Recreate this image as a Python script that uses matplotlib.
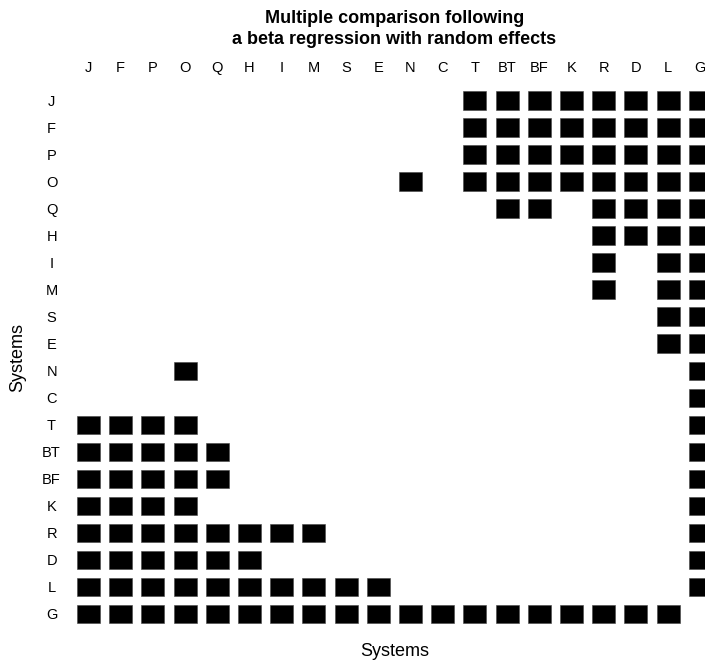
import matplotlib
matplotlib.use("Agg")
import matplotlib.pyplot as plt
import numpy as np

plt.rcParams['font.family'] = ['Liberation Sans', 'DejaVu Sans']

systems = ["J", "F", "P", "O", "Q", "H", "I", "M", "S", "E",
           "N", "C", "T", "BT", "BF", "K", "R", "D", "L", "G"]

# significant differences (upper triangle, mirrored below)
sig_J = ["T", "BT", "BF", "K", "R", "D", "L", "G"]
sig_F = ["T", "BT", "BF", "K", "R", "D", "L", "G"]
sig_P = ["T", "BT", "BF", "K", "R", "D", "L", "G"]
sig_O = ["N", "T", "BT", "BF", "K", "R", "D", "L", "G"]
sig_Q = ["BT", "BF", "R", "D", "L", "G"]
sig_H = ["R", "D", "L", "G"]
sig_I = ["R", "L", "G"]
sig_M = ["R", "L", "G"]
sig_S = ["L", "G"]
sig_E = ["L", "G"]
sig_N = ["G"]
sig_C = ["G"]
sig_T = ["G"]
sig_BT = ["G"]
sig_BF = ["G"]
sig_K = ["G"]
sig_R = ["G"]
sig_D = ["G"]
sig_L = ["G"]

upper = {"J": sig_J, "F": sig_F, "P": sig_P, "O": sig_O, "Q": sig_Q,
         "H": sig_H, "I": sig_I, "M": sig_M, "S": sig_S, "E": sig_E,
         "N": sig_N, "C": sig_C, "T": sig_T, "BT": sig_BT, "BF": sig_BF,
         "K": sig_K, "R": sig_R, "D": sig_D, "L": sig_L}

n = len(systems)
idx = {s: i for i, s in enumerate(systems)}
mat = np.zeros((n, n), dtype=int)
for a, lst in upper.items():
    for b in lst:
        mat[idx[a], idx[b]] = 1
        mat[idx[b], idx[a]] = 1

fig = plt.figure(figsize=(7.05, 6.64), dpi=100)
W, H = 705, 664
left_px, right_px = 72.4, 716.4
top_px, bot_px = 86.9, 627.5
ax = fig.add_axes([left_px / W, 1 - bot_px / H,
                   (right_px - left_px) / W, (bot_px - top_px) / H])

rows, cols = np.nonzero(mat)
w, h = 0.72, 0.68
ax.bar(cols, h, width=w, bottom=rows - h / 2, color="black",
       edgecolor="#444444", linewidth=0.4)

ax.set_xlim(-0.5, n - 0.5)
ax.set_ylim(n - 0.5, -0.5)
for sp in ax.spines.values():
    sp.set_visible(False)

ax.set_xticks(range(n))
ax.set_xticklabels(systems, fontsize=10.5)
ax.xaxis.tick_top()
ax.tick_params(axis="x", length=0, pad=8.5)
ax.set_yticks(range(n))
ax.set_yticklabels(systems, fontsize=10.5, ha="center")
ax.tick_params(axis="y", length=0, pad=15)

ax.set_title("Multiple comparison following\na beta regression with random effects",
             fontsize=13, fontweight="bold", pad=31, linespacing=1.3)

ax.set_xlabel("Systems", fontsize=13)
ax.set_ylabel("Systems", fontsize=13)
ax.xaxis.set_label_coords(0.5, (bot_px - 651) / (bot_px - top_px))
ax.xaxis.label.set_va("center")
ax.yaxis.set_label_coords((18 - left_px) / (right_px - left_px), 0.5)
ax.yaxis.label.set_va("center")

fig.savefig("out.png", dpi=100)
